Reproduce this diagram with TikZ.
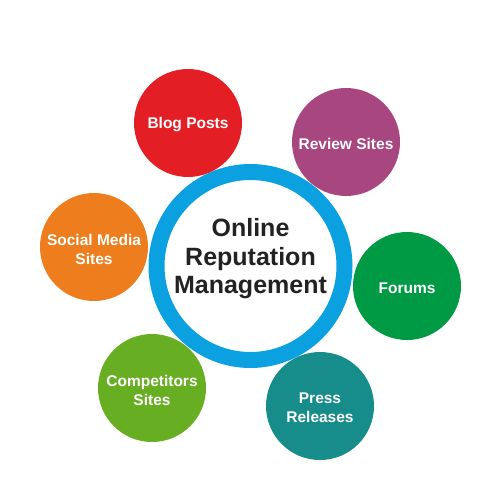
\documentclass[tikz,border=0pt]{standalone}
\usepackage{fontspec}
\setmainfont{Liberation Sans}
\definecolor{cred}{HTML}{E31E24}
\definecolor{cpurple}{HTML}{A8477F}
\definecolor{corange}{HTML}{EE7D1E}
\definecolor{cgreen}{HTML}{009A44}
\definecolor{clime}{HTML}{68AE22}
\definecolor{cteal}{HTML}{168D8B}
\definecolor{cblue}{HTML}{0BA0E0}
\definecolor{ctext}{HTML}{222222}
\begin{document}
\begin{tikzpicture}[x=1pt,y=-1pt,
  bubble/.style={circle,minimum size=108pt,inner sep=0pt,fill=#1},
  bubbletext/.style={text=white,font=\fontsize{15.5}{19}\selectfont\bfseries,align=center},
  hub/.style={circle,minimum size=188pt,inner sep=0pt,draw=cblue,line width=16pt,fill=white}]
\useasboundingbox (0,0) rectangle (500,500);
\node[bubble=cred] (blog) at (188,123) {};
\node[bubble=cpurple] (review) at (346,142) {};
\node[bubble=corange] (social) at (94,247) {};
\node[bubble=cgreen] (forums) at (407,286) {};
\node[bubble=clime] (comp) at (152,388) {};
\node[bubble=cteal] (press) at (320,406) {};
\node[bubbletext] (blogt) at ([yshift=-2pt]blog.center) {Blog Posts};
\node[bubbletext] (reviewt) at ([yshift=-2pt]review.center) {Review Sites};
\node[bubbletext] (socialt) at ([yshift=-2pt]social.center) {Social Media\\Sites};
\node[bubbletext] (forumst) at ([yshift=-2pt]forums.center) {Forums};
\node[bubbletext] (compt) at ([yshift=-2pt]comp.center) {Competitors\\Sites};
\node[bubbletext] (presst) at ([yshift=-2pt]press.center) {Press\\Releases};
\node[hub] (orm) at (250.5,266) {};
\node[text=ctext,font=\fontsize{25}{28.5}\selectfont\bfseries,align=center] (ormtext) at (250.5,259) {Online\\Reputation\\Management};
\end{tikzpicture}
\end{document}
